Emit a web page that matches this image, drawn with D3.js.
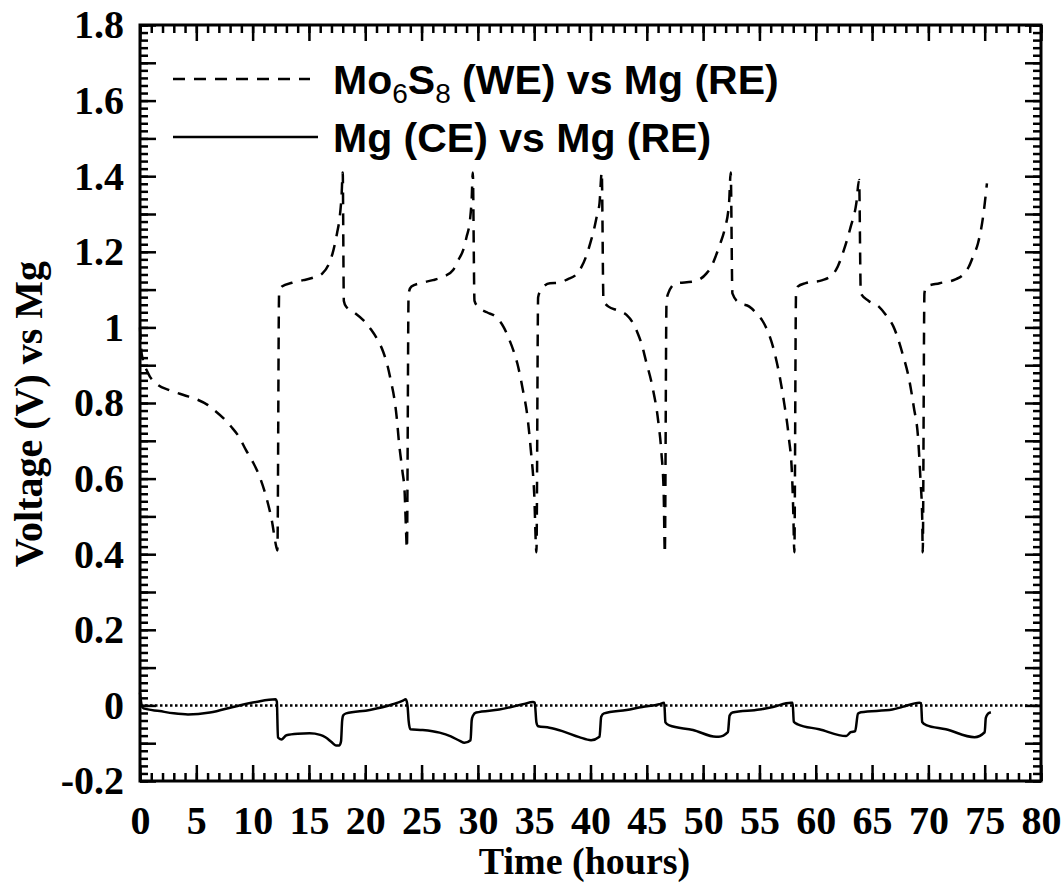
<!DOCTYPE html>
<html>
<head>
<meta charset="utf-8">
<script src="https://cdn.jsdelivr.net/npm/d3@7"></script>
<style>
  body { margin: 0; background: #fff; }
  svg { display: block; }
</style>
</head>
<body>
<svg id="chart" width="1064" height="888"></svg>
<script>
// Mo6S8 working electrode vs Mg reference (dashed)
const weTime = [
  0, 0.15, 0.7, 1.5, 2.6, 4.0, 5.0, 6.0, 6.6, 7.4, 8.1, 8.8, 9.4, 10.0, 10.5, 11.2, 11.7, 12.1, 12.2,
  12.35, 12.6, 13.5, 14.5, 15.5, 16.2, 16.8, 17.1, 17.5, 17.7, 17.9, 18.0,
  18.1, 18.3, 19.0, 19.8, 20.5, 21.1, 21.6, 22.0, 22.3, 22.6, 22.8, 23.0, 23.3, 23.5, 23.6, 23.7,
  23.85, 24.1, 25.0, 26.0, 27.0, 27.8, 28.3, 28.7, 29.0, 29.3, 29.45, 29.55,
  29.7, 30.0, 30.8, 31.6, 32.3, 32.8, 33.2, 33.5, 34.0, 34.4, 34.7, 35.0, 35.2,
  35.35, 35.6, 36.4, 37.2, 38.0, 38.7, 39.2, 39.6, 40.0, 40.3, 40.6, 40.8, 41.0,
  41.15, 41.6, 42.4, 43.2, 43.8, 44.2, 44.6, 44.9, 45.5, 46.0, 46.3, 46.5, 46.6,
  46.75, 46.9, 47.6, 49.1, 50.3, 50.8, 51.1, 51.5, 51.9, 52.3, 52.45,
  52.6, 53.2, 54.1, 54.8, 55.4, 56.2, 56.8, 57.2, 57.6, 57.9, 58.0, 58.1,
  58.25, 58.4, 59.1, 60.6, 61.3, 61.8, 62.5, 63.1, 63.6, 63.85,
  64.0, 64.7, 65.6, 66.3, 66.9, 67.7, 68.3, 68.7, 69.1, 69.3, 69.45, 69.5,
  69.65, 69.8, 71.0, 72.4, 73.1, 73.6, 74.0, 74.4, 74.9, 75.2
];
const weVolt = [
  1.00, 0.93, 0.88, 0.85, 0.834, 0.82, 0.81, 0.795, 0.781, 0.76, 0.737, 0.71, 0.676, 0.645, 0.614, 0.552, 0.49, 0.42, 0.41,
  1.09, 1.108, 1.118, 1.125, 1.133, 1.143, 1.17, 1.196, 1.25, 1.284, 1.35, 1.41,
  1.07, 1.055, 1.04, 1.02, 0.995, 0.967, 0.935, 0.896, 0.855, 0.808, 0.76, 0.694, 0.62, 0.562, 0.48, 0.415,
  1.09, 1.108, 1.118, 1.125, 1.135, 1.152, 1.18, 1.205, 1.24, 1.284, 1.34, 1.41,
  1.07, 1.055, 1.04, 1.028, 1.0, 0.967, 0.935, 0.905, 0.834, 0.764, 0.676, 0.561, 0.405,
  1.08, 1.099, 1.117, 1.118, 1.128, 1.139, 1.16, 1.187, 1.225, 1.258, 1.3, 1.328, 1.41,
  1.072, 1.055, 1.045, 1.033, 1.01, 0.984, 0.95, 0.914, 0.843, 0.755, 0.667, 0.561, 0.402,
  1.07, 1.09, 1.117, 1.121, 1.143, 1.165, 1.187, 1.22, 1.258, 1.328, 1.41,
  1.09, 1.065, 1.055, 1.035, 1.011, 0.949, 0.87, 0.799, 0.711, 0.605, 0.517, 0.405,
  1.09, 1.108, 1.117, 1.125, 1.135, 1.152, 1.205, 1.266, 1.328, 1.39,
  1.09, 1.07, 1.055, 1.03, 1.002, 0.931, 0.861, 0.79, 0.702, 0.596, 0.5, 0.405,
  1.09, 1.108, 1.117, 1.127, 1.14, 1.161, 1.19, 1.222, 1.302, 1.381
];

// Mg counter electrode vs Mg reference (solid)
const ceTime = [
  0, 0.15, 0.3, 1.75, 3.0, 4.26, 6.2, 8.55, 10.3, 12.04, 12.15, 12.25, 12.55, 13.0, 14.0, 15.06, 16.0, 16.5, 17.0, 17.4, 17.7, 17.85, 17.95,
  18.05, 18.3, 20.4, 22.45, 23.3, 23.6, 23.75, 23.85, 24.0, 25.1, 26.6, 27.6, 28.4, 28.8, 29.35, 29.45,
  29.55, 29.85, 31.9, 34.0, 34.9, 35.05, 35.2, 35.35, 36.35, 37.5, 39.0, 40.05, 40.8, 40.95,
  41.2, 43.2, 44.6, 46.1, 46.55, 46.65, 47.0, 49.1, 51.15, 51.4, 52.2, 52.35,
  52.6, 55.0, 56.2, 57.8, 57.95, 58.05, 58.4, 60.3, 62.7, 63.1, 63.5, 63.75,
  64.0, 66.8, 67.7, 69.2, 69.35, 69.45, 69.8, 71.55, 74.1, 75.0, 75.1, 75.3, 75.55
];
const ceVolt = [
  0.034, 0.0, -0.008, -0.015, -0.021, -0.024, -0.019, -0.002, 0.009, 0.016, 0.01, -0.085, -0.09, -0.079, -0.075, -0.074, -0.078, -0.085, -0.097, -0.106, -0.106, -0.095, -0.04,
  -0.026, -0.021, -0.012, 0.003, 0.012, 0.016, 0.0, -0.04, -0.063, -0.065, -0.072, -0.082, -0.094, -0.099, -0.092, -0.04,
  -0.028, -0.019, -0.011, 0.003, 0.009, 0.007, -0.045, -0.055, -0.059, -0.068, -0.084, -0.092, -0.083, -0.03,
  -0.021, -0.012, -0.004, 0.003, 0.007, -0.045, -0.053, -0.065, -0.083, -0.083, -0.071, -0.027,
  -0.019, -0.011, -0.004, 0.007, 0.007, -0.043, -0.05, -0.063, -0.081, -0.071, -0.068, -0.022,
  -0.018, -0.011, -0.004, 0.007, 0.006, -0.044, -0.052, -0.063, -0.084, -0.071, -0.033, -0.022, -0.018
];

const xTicksMajor = [0, 5, 10, 15, 20, 25, 30, 35, 40, 45, 50, 55, 60, 65, 70, 75, 80];
const yTickLabels = [-0.2, 0, 0.2, 0.4, 0.6, 0.8, 1, 1.2, 1.4, 1.6, 1.8];

const config = { left: 140, top: 25, right: 1041, bottom: 781 };

const svg = d3.select('#chart');

const x = d3.scaleLinear().domain([0, 80]).range([config.left, config.right]);
const y = d3.scaleLinear().domain([-0.2, 1.8]).range([config.bottom, config.top]);

const serif = '"Liberation Serif", "Times New Roman", serif';
const sans = '"Liberation Sans", Arial, sans-serif';

function styleAxis(g){
    g.select('.domain').remove()
    g.selectAll('.tick line').attr('stroke', '#000').attr('stroke-width', 2.5)
    g.selectAll('.tick text')
        .attr('fill', '#000')
        .style('font-family', serif)
        .style('font-weight', 'bold')
        .style('font-size', '40px')
}

const minorX = d3.range(0, 81, 1)
const minorY = d3.range(-0.2, 1.8001, 0.02).map(v => +v.toFixed(2))
const majorY = d3.range(-0.2, 1.8001, 0.1).map(v => +v.toFixed(2))

// bottom axis
svg.append('g')
    .attr('transform', 'translate(0,' + config.bottom + ')')
    .call(d3.axisBottom(x).tickValues(minorX).tickSize(-8).tickFormat(''))
    .call(styleAxis)
svg.append('g')
    .attr('transform', 'translate(0,' + config.bottom + ')')
    .call(d3.axisBottom(x).tickValues(xTicksMajor).tickSize(-16).tickPadding(25).tickFormat(d3.format('d')))
    .call(styleAxis)

// top axis
svg.append('g')
    .attr('transform', 'translate(0,' + config.top + ')')
    .call(d3.axisTop(x).tickValues(minorX).tickSize(-8).tickFormat(''))
    .call(styleAxis)
svg.append('g')
    .attr('transform', 'translate(0,' + config.top + ')')
    .call(d3.axisTop(x).tickValues(xTicksMajor).tickSize(-16).tickFormat(''))
    .call(styleAxis)

// left axis
svg.append('g')
    .attr('transform', 'translate(' + config.left + ',0)')
    .call(d3.axisLeft(y).tickValues(minorY).tickSize(-8).tickFormat(''))
    .call(styleAxis)
svg.append('g')
    .attr('transform', 'translate(' + config.left + ',0)')
    .call(d3.axisLeft(y).tickValues(majorY).tickSize(-16).tickFormat(''))
    .call(styleAxis)
svg.append('g')
    .attr('transform', 'translate(' + config.left + ',0)')
    .call(d3.axisLeft(y).tickValues(yTickLabels).tickSize(0).tickPadding(16).tickFormat(d => String(d)))
    .call(styleAxis)

// right axis
svg.append('g')
    .attr('transform', 'translate(' + config.right + ',0)')
    .call(d3.axisRight(y).tickValues(minorY).tickSize(-8).tickFormat(''))
    .call(styleAxis)
svg.append('g')
    .attr('transform', 'translate(' + config.right + ',0)')
    .call(d3.axisRight(y).tickValues(majorY).tickSize(-16).tickFormat(''))
    .call(styleAxis)

// frame
svg.append('rect')
    .attr('x', config.left)
    .attr('y', config.top)
    .attr('width', config.right - config.left)
    .attr('height', config.bottom - config.top)
    .attr('fill', 'none')
    .attr('stroke', '#000')
    .attr('stroke-width', 3)

// zero line
svg.append('line')
    .attr('x1', x(0)).attr('x2', x(80))
    .attr('y1', y(0)).attr('y2', y(0))
    .attr('stroke', '#000')
    .attr('stroke-width', 2.5)
    .attr('stroke-dasharray', '2.5,2.5')

const line = d3.line()
    .x(d => x(d[0]))
    .y(d => y(d[1]))
    .curve(d3.curveMonotoneX)

const weData = weTime.map((t, i) => [t, weVolt[i]])
const ceData = ceTime.map((t, i) => [t, ceVolt[i]])

svg.append('path')
    .datum(weData)
    .attr('d', line)
    .attr('fill', 'none')
    .attr('stroke', '#000')
    .attr('stroke-width', 2.5)
    .attr('stroke-dasharray', '12,9')

svg.append('path')
    .datum(ceData)
    .attr('d', line)
    .attr('fill', 'none')
    .attr('stroke', '#000')
    .attr('stroke-width', 2.5)

// legend
const legend = svg.append('g')
legend.append('line')
    .attr('x1', 173).attr('x2', 310).attr('y1', 79).attr('y2', 79)
    .attr('stroke', '#000').attr('stroke-width', 2.5).attr('stroke-dasharray', '12,9')
legend.append('line')
    .attr('x1', 173).attr('x2', 318).attr('y1', 137).attr('y2', 137)
    .attr('stroke', '#000').attr('stroke-width', 2.5)

const t1 = legend.append('text')
    .attr('x', 333).attr('y', 94)
    .style('font-family', sans).style('font-weight', 'bold').style('font-size', '41px')
t1.append('tspan').text('Mo')
t1.append('tspan').attr('dy', 9).style('font-size', '28px').style('font-weight', 'normal').text('6')
t1.append('tspan').attr('dy', -9).text('S')
t1.append('tspan').attr('dy', 9).style('font-size', '28px').style('font-weight', 'normal').text('8')
t1.append('tspan').attr('dy', -9).text(' (WE) vs Mg (RE)')

legend.append('text')
    .attr('x', 333).attr('y', 152)
    .style('font-family', sans).style('font-weight', 'bold').style('font-size', '41px')
    .text('Mg (CE) vs Mg (RE)')

// axis titles
svg.append('text')
    .attr('x', (config.left + config.right) / 2 - 6)
    .attr('y', 874)
    .attr('text-anchor', 'middle')
    .style('font-family', serif).style('font-weight', 'bold').style('font-size', '38px')
    .text('Time (hours)')

svg.append('text')
    .attr('transform', 'translate(42,' + 414 + ') rotate(-90)')
    .attr('text-anchor', 'middle')
    .style('font-family', serif).style('font-weight', 'bold').style('font-size', '40px')
    .text('Voltage (V) vs Mg')
</script>
</body>
</html>
